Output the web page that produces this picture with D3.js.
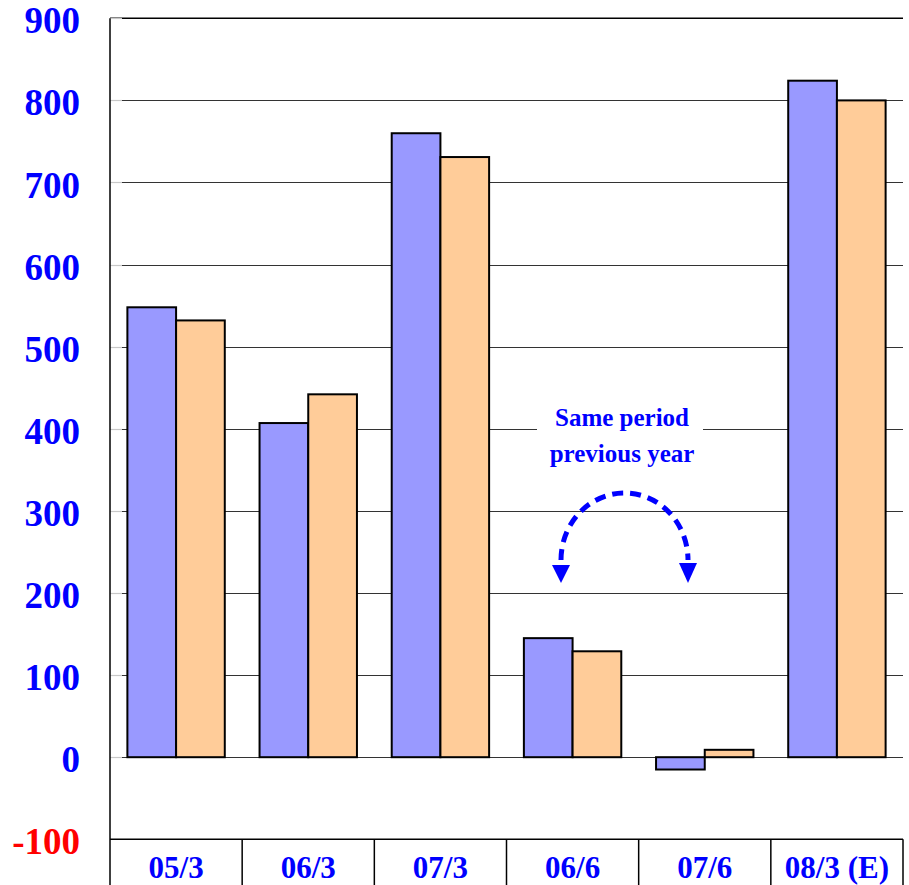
<!DOCTYPE html>
<html><head><meta charset="utf-8">
<script src="https://cdn.jsdelivr.net/npm/d3@7"></script>
<style>body{margin:0;background:#fff;} svg{display:block;}</style>
</head><body>
<script>
const categories = ["05/3", "06/3", "07/3", "06/6", "07/6", "08/3 (E)"];
const seriesA = [548, 407, 760, 145, -15, 824];
const seriesB = [532, 442, 731, 129, 9, 800];
const yTicks = [-100, 0, 100, 200, 300, 400, 500, 600, 700, 800, 900];
const annotationLines = ["Same period", "previous year"];

(function () {
const W = 909, H = 885;
const pLeft = 110, pRight = 903, pTop = 18.3, pBottom = 839.3, bandBottom = 885;
const svg = d3.select("body").append("svg").attr("width", W).attr("height", H);

const y = d3.scaleLinear().domain([-100, 900]).range([pBottom, pTop]);
const x0 = d3.scaleBand().domain(categories).range([pLeft, pRight]).paddingInner(0).paddingOuter(0);
const x1 = d3.scaleBand().domain(["a", "b"]).range([0, x0.bandwidth()]).paddingInner(0).paddingOuter(0.357);

const font = "'Liberation Serif','Times New Roman',serif";

// gridlines
svg.append("g").selectAll("line").data(yTicks.filter(d => d > -100 && d < 900)).join("line")
  .attr("x1", pLeft).attr("x2", pRight)
  .attr("y1", d => Math.round(y(d)) + 0.5).attr("y2", d => Math.round(y(d)) + 0.5)
  .attr("stroke", "#333").attr("stroke-width", 1);

// top border
svg.append("line").attr("x1", pLeft).attr("x2", pRight).attr("y1", y(900)).attr("y2", y(900))
  .attr("stroke", "#000").attr("stroke-width", 1.5);

// inner light tick stubs
svg.append("g").selectAll("line").data(yTicks.filter(d => d > -100)).join("line")
  .attr("x1", pLeft).attr("x2", pLeft + 12)
  .attr("y1", d => Math.round(y(d)) + 0.5).attr("y2", d => Math.round(y(d)) + 0.5)
  .attr("stroke", "#c8c8c8").attr("stroke-width", 1.2);

// annotation white box
const annCx = 620;
svg.append("rect").attr("x", 537).attr("y", 402).attr("width", 166).attr("height", 66).attr("fill", "#fff");

// bars
const data = categories.map((c, i) => ({c, vals: [{k: "a", v: seriesA[i]}, {k: "b", v: seriesB[i]}]}));
const colors = {a: "#9999FF", b: "#FFCC99"};
const g = svg.append("g").selectAll("g").data(data).join("g")
  .attr("transform", d => `translate(${x0(d.c)},0)`);
g.selectAll("rect").data(d => d.vals).join("rect")
  .attr("x", d => x1(d.k)).attr("width", x1.bandwidth())
  .attr("y", d => y(Math.max(0, d.v))).attr("height", d => Math.abs(y(d.v) - y(0)))
  .attr("fill", d => colors[d.k]).attr("stroke", "#000").attr("stroke-width", 2);

// left axis line
svg.append("line").attr("x1", pLeft).attr("x2", pLeft).attr("y1", pTop).attr("y2", bandBottom)
  .attr("stroke", "#000").attr("stroke-width", 1.5);

// bottom band
svg.append("line").attr("x1", pLeft).attr("x2", pRight).attr("y1", pBottom).attr("y2", pBottom)
  .attr("stroke", "#000").attr("stroke-width", 1.5);
const bounds = categories.map(c => x0(c)).concat([pRight]).slice(1);
svg.append("g").selectAll("line").data(bounds).join("line")
  .attr("x1", d => d).attr("x2", d => d).attr("y1", pBottom).attr("y2", bandBottom)
  .attr("stroke", "#000").attr("stroke-width", 1.5);

// category labels
svg.append("g").selectAll("text").data(categories).join("text")
  .attr("x", d => x0(d) + x0.bandwidth() / 2).attr("y", 878)
  .attr("text-anchor", "middle").attr("font-family", font).attr("font-weight", "bold")
  .attr("font-size", 31).attr("fill", "#0000FF").text(d => d);

// y tick labels
svg.append("g").selectAll("text").data(yTicks).join("text")
  .attr("x", 80).attr("y", d => y(d) + 15)
  .attr("text-anchor", "end").attr("font-family", font).attr("font-weight", "bold")
  .attr("font-size", 37).attr("fill", d => d < 0 ? "#FF0000" : "#0000FF").text(d => d);

// annotation text
svg.append("g").selectAll("text").data(annotationLines).join("text")
  .attr("x", annCx + 2).attr("y", (d, i) => 426 + i * 36)
  .attr("text-anchor", "middle").attr("font-family", font).attr("font-weight", "bold")
  .attr("font-size", 25).attr("fill", "#0000FF").text(d => d);

// dashed arc arrow
svg.append("path").attr("d", "M561,560 A63.5,67 0 0 1 688,560")
  .attr("fill", "none").attr("stroke", "#0000FF").attr("stroke-width", 5).attr("stroke-dasharray", "11,7");
svg.append("path").attr("d", "M552,565 L570,565 L561,583 Z").attr("fill", "#0000FF");
svg.append("path").attr("d", "M679,563 L697,563 L688,583 Z").attr("fill", "#0000FF");
})();
</script>
</body></html>
